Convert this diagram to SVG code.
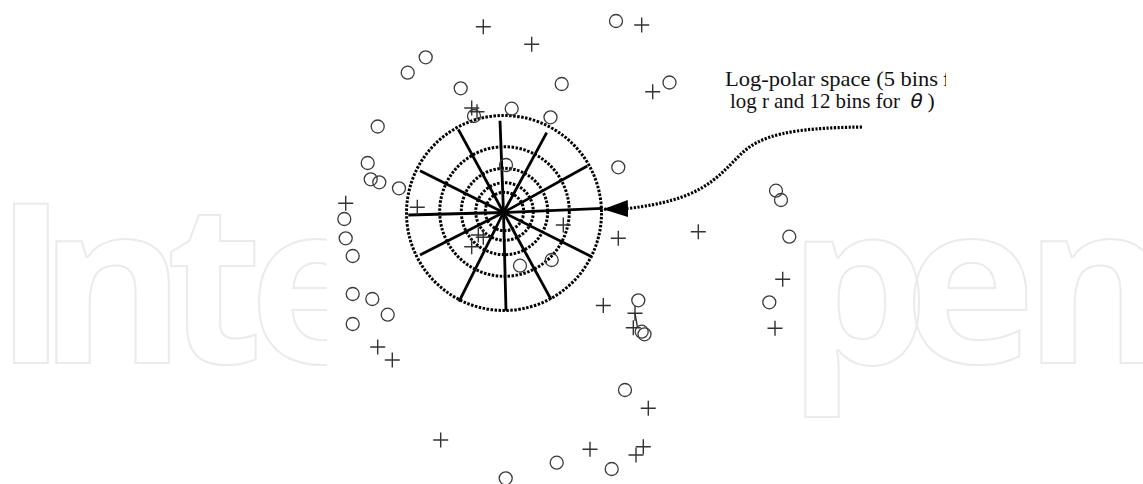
<svg xmlns="http://www.w3.org/2000/svg" width="1143" height="484" viewBox="0 0 1143 484">
  <style>
    .wm { font-family: "Open Sans", "Noto Sans", sans-serif; font-weight: 700; font-size: 223px; fill: none; stroke: #ebebeb; stroke-width: 2; }
    .o { fill: none; stroke: #3a3a3a; stroke-width: 1.3; }
    .p { stroke: #333; stroke-width: 1.4; fill: none; }
    .ring { fill: none; stroke: #000; stroke-width: 3; stroke-dasharray: 2.5 1.5; }
    .spoke { stroke: #000; stroke-width: 2.8; stroke-linecap: butt; }
    .lbl { font-family: "Liberation Serif", "Times New Roman", serif; font-size: 21.5px; fill: #111; }
    .conn { fill: none; stroke: #000; stroke-width: 3.2; stroke-dasharray: 2.2 1.5; }
  </style>
  <defs>
    <marker id="tri" markerUnits="userSpaceOnUse" viewBox="0 0 25 17" refX="25" refY="8.5" markerWidth="25" markerHeight="17" orient="auto">
      <path d="M0,0 L25,8.5 L0,17 z" fill="#000"/>
    </marker>
    <clipPath id="lblclip"><rect x="700" y="50" width="246" height="80"/></clipPath>
    <symbol id="pl" overflow="visible"><path class="p" d="M-7.5,0 H7.5 M0,-7.5 V7.5"/></symbol>
  </defs>
  <rect width="1143" height="484" fill="#fff"/>
  <g id="watermark">
    <text class="wm" x="-6 39 166 249" y="363">Inte</text>
    <text class="wm" x="788 904 1024" y="363">pen</text>
  </g>
  <rect x="327" y="0" width="475" height="484" fill="#fff"/>

  <g id="log-polar">
    <circle class="ring" cx="504" cy="213" r="97.5"/>
    <circle class="ring" cx="504.5" cy="211.5" r="64.8"/>
    <circle class="ring" cx="504.5" cy="211.5" r="43.2"/>
    <circle class="ring" cx="504.5" cy="211.5" r="28.8"/>
    <circle class="ring" cx="504.5" cy="211.5" r="19.2"/>
    <g class="spoke">
      <line x1="503.5" y1="212.5" x2="602.7" y2="208.3"/>
      <line x1="503.5" y1="212.5" x2="408.3" y2="215"/>
      <line x1="503.5" y1="212.5" x2="500" y2="120.7"/>
      <line x1="503.5" y1="212.5" x2="506" y2="310.7"/>
      <line x1="503.5" y1="212.5" x2="546.7" y2="132.7"/>
      <line x1="503.5" y1="212.5" x2="459" y2="301.7"/>
      <line x1="503.5" y1="212.5" x2="587.3" y2="166"/>
      <line x1="503.5" y1="212.5" x2="420" y2="255"/>
      <line x1="503.5" y1="212.5" x2="420" y2="170.7"/>
      <line x1="503.5" y1="212.5" x2="591.7" y2="256.7"/>
      <line x1="503.5" y1="212.5" x2="458.3" y2="129.3"/>
      <line x1="503.5" y1="212.5" x2="551" y2="299.3"/>
    </g>
  </g>

  <g id="points-circles">
    <circle class="o" cx="616" cy="21" r="6.5"/>
    <circle class="o" cx="425.7" cy="57.3" r="6.5"/>
    <circle class="o" cx="407.7" cy="72.7" r="6.5"/>
    <circle class="o" cx="460.7" cy="88.3" r="6.5"/>
    <circle class="o" cx="561.7" cy="84" r="6.5"/>
    <circle class="o" cx="669.5" cy="82.5" r="6.5"/>
    <circle class="o" cx="474" cy="116" r="6.5"/>
    <circle class="o" cx="511.7" cy="108.7" r="6.5"/>
    <circle class="o" cx="550.5" cy="117.3" r="6.5"/>
    <circle class="o" cx="377.7" cy="126.5" r="6.5"/>
    <circle class="o" cx="367.7" cy="163" r="6.5"/>
    <circle class="o" cx="370.7" cy="179.3" r="6.5"/>
    <circle class="o" cx="379.3" cy="182.3" r="6.5"/>
    <circle class="o" cx="399" cy="188.3" r="6.5"/>
    <circle class="o" cx="344.3" cy="219" r="6.5"/>
    <circle class="o" cx="345.7" cy="238.3" r="6.5"/>
    <circle class="o" cx="352.7" cy="256" r="6.5"/>
    <circle class="o" cx="352.7" cy="294" r="6.5"/>
    <circle class="o" cx="372.3" cy="299" r="6.5"/>
    <circle class="o" cx="387.7" cy="314.7" r="6.5"/>
    <circle class="o" cx="352.7" cy="324" r="6.5"/>
    <circle class="o" cx="506" cy="165" r="6.5"/>
    <circle class="o" cx="520" cy="265.7" r="6.5"/>
    <circle class="o" cx="551.7" cy="260" r="6.5"/>
    <circle class="o" cx="618.3" cy="167.3" r="6.5"/>
    <circle class="o" cx="776" cy="190.7" r="6.5"/>
    <circle class="o" cx="781" cy="200" r="6.5"/>
    <circle class="o" cx="789.3" cy="236.7" r="6.5"/>
    <circle class="o" cx="769.3" cy="302.3" r="6.5"/>
    <circle class="o" cx="638.3" cy="300.3" r="6.5"/>
    <circle class="o" cx="641.7" cy="331.7" r="6.5"/>
    <circle class="o" cx="644.5" cy="334.3" r="6.5"/>
    <circle class="o" cx="625" cy="390" r="6.5"/>
    <circle class="o" cx="556.7" cy="462.7" r="6.5"/>
    <circle class="o" cx="611.7" cy="469" r="6.5"/>
    <circle class="o" cx="505.7" cy="478.3" r="6.5"/>
  </g>

  <g id="points-plus">
    <use href="#pl" x="483.3" y="26.7"/>
    <use href="#pl" x="531.7" y="44.3"/>
    <use href="#pl" x="641.7" y="25"/>
    <use href="#pl" x="652.7" y="91.7"/>
    <use href="#pl" x="471.7" y="108"/>
    <use href="#pl" x="477" y="111.7"/>
    <use href="#pl" x="345.7" y="203.3"/>
    <use href="#pl" x="417.3" y="207.3"/>
    <use href="#pl" x="563.3" y="225"/>
    <use href="#pl" x="478.3" y="235"/>
    <use href="#pl" x="483.3" y="237.3"/>
    <use href="#pl" x="471.7" y="246.7"/>
    <use href="#pl" x="618.3" y="238.3"/>
    <use href="#pl" x="698.3" y="231.7"/>
    <use href="#pl" x="603.3" y="305.5"/>
    <use href="#pl" x="635" y="313.3"/>
    <use href="#pl" x="633.3" y="327.7"/>
    <use href="#pl" x="782.7" y="279.3"/>
    <use href="#pl" x="775" y="328.3"/>
    <use href="#pl" x="377.7" y="347"/>
    <use href="#pl" x="392.3" y="360"/>
    <use href="#pl" x="648.3" y="408.3"/>
    <use href="#pl" x="440.7" y="440"/>
    <use href="#pl" x="590" y="449.3"/>
    <use href="#pl" x="643.3" y="446.7"/>
    <use href="#pl" x="636" y="455"/>
    <path class="p" d="M635,313.3 L637.5,327.5" stroke-width="1"/>
  </g>

  <g id="label">
    <text class="lbl" clip-path="url(#lblclip)" y="86"><tspan x="725" textLength="213" lengthAdjust="spacingAndGlyphs">Log-polar space (5 bins</tspan><tspan x="943">for</tspan></text>
    <text class="lbl" y="107.7"><tspan x="730" textLength="170" lengthAdjust="spacingAndGlyphs">log r and 12 bins for</tspan><tspan x="910.5" font-family="DejaVu Sans, sans-serif" font-style="italic" font-size="20px">θ</tspan><tspan x="927.5">)</tspan></text>
  </g>

  <g id="connectors">
    <path class="conn" d="M862,127 C790,128 760,135 740,155 C715,180 700,200 628,208.5 L603,209.3" marker-end="url(#tri)"/>
  </g>
</svg>
